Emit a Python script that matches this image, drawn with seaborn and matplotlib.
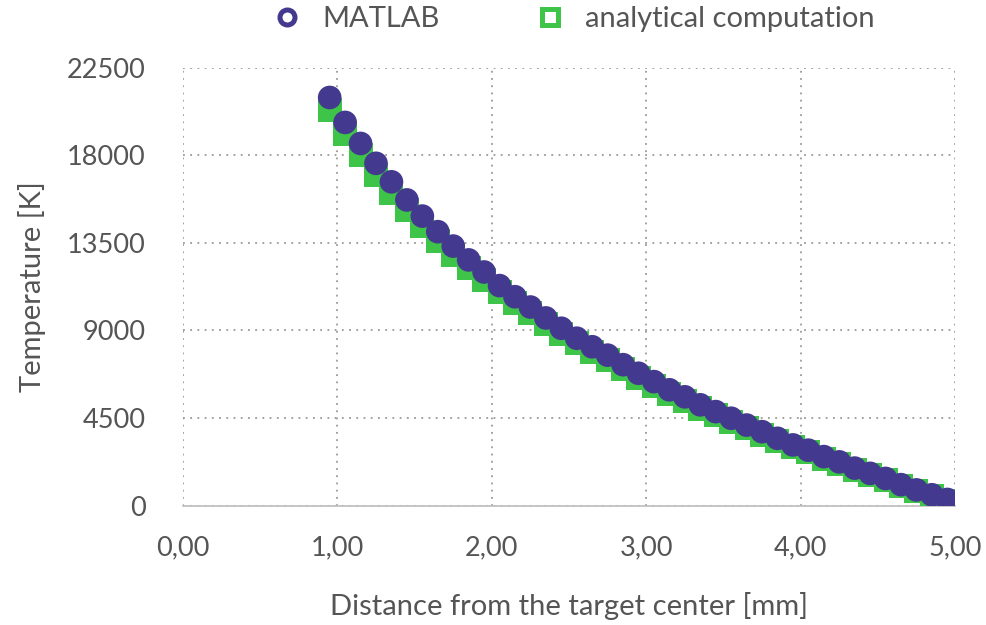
import matplotlib
matplotlib.use("Agg")
import matplotlib.pyplot as plt
from matplotlib.lines import Line2D
from matplotlib.ticker import FuncFormatter
import seaborn as sns
import pandas as pd

distance_mm = [0.95, 1.05, 1.15, 1.25, 1.35, 1.45, 1.55, 1.65, 1.75, 1.85,
               1.95, 2.05, 2.15, 2.25, 2.35, 2.45, 2.55, 2.65, 2.75, 2.85,
               2.95, 3.05, 3.15, 3.25, 3.35, 3.45, 3.55, 3.65, 3.75, 3.85,
               3.95, 4.05, 4.15, 4.25, 4.35, 4.45, 4.55, 4.65, 4.75, 4.85, 4.95]

matlab_K = [20960, 19680, 18600, 17580, 16630, 15700, 14870, 14070, 13330, 12620,
            12000, 11300, 10730, 10200, 9640, 9110, 8600, 8160, 7730, 7240,
            6800, 6370, 5950, 5590, 5180, 4830, 4490, 4140, 3800, 3460,
            3120, 2850, 2520, 2250, 1930, 1660, 1400, 1080, 810, 560, 320]

analytical_K = [20310, 19110, 17990, 16990, 16050, 15190, 14370, 13600, 12880, 12220,
                11600, 10970, 10430, 9900, 9350, 8820, 8330, 7900, 7470, 7000,
                6570, 6150, 5740, 5390, 4990, 4650, 4320, 3980, 3650, 3320,
                3000, 2740, 2420, 2160, 1850, 1590, 1340, 1030, 760, 510, 250]

y_ticks = [0, 4500, 9000, 13500, 18000, 22500]
x_ticks = [0, 1, 2, 3, 4, 5]

purple = "#433a8f"
green = "#3dc449"
text_col = "#555555"

sns.set_theme(style="white")
plt.rcParams['font.family'] = ['Lato', 'DejaVu Sans']

df_m = pd.DataFrame({"x": distance_mm, "y": matlab_K})
df_a = pd.DataFrame({"x": distance_mm, "y": analytical_K})

fig = plt.figure(figsize=(9.86, 6.25), dpi=100)
ax = fig.add_axes([0.1856, 0.1909, 0.9686 - 0.1856, 0.892 - 0.1909])

sns.scatterplot(data=df_a, x="x", y="y", ax=ax, marker="s", s=300, color=green,
                edgecolor="none", linewidth=0, zorder=3, legend=False)
sns.scatterplot(data=df_m, x="x", y="y", ax=ax, marker="o", s=290, color=purple,
                edgecolor="none", linewidth=0, zorder=4, legend=False)

ax.set_xlim(0, 5)
ax.set_ylim(0, 22500)
ax.set_xticks(x_ticks)
ax.set_yticks(y_ticks)
ax.xaxis.set_major_formatter(FuncFormatter(lambda v, p: f"{v:.2f}".replace('.', ',')))
ax.yaxis.set_major_formatter(FuncFormatter(lambda v, p: f"{int(v)}"))

ax.grid(True, which="major", axis="both", color="#9a9a9a", linestyle=(0, (1, 3)),
        linewidth=1.3)
for s in ["left", "right", "top"]:
    ax.spines[s].set_visible(False)
ax.spines["bottom"].set_color("#bdbdbd")
ax.spines["bottom"].set_linewidth(1.2)
ax.spines["bottom"].set_zorder(2)

ax.tick_params(axis="both", length=0, labelsize=19.5, labelcolor=text_col)
ax.tick_params(axis="x", pad=21)
ax.tick_params(axis="y", pad=27)

ax.set_xlabel("Distance from the target center [mm]", fontsize=21, color=text_col,
              labelpad=23)
ax.set_ylabel("Temperature [K]", fontsize=21, color=text_col, labelpad=15)

handles = [
    Line2D([], [], marker="o", linestyle="none", markersize=10.8,
           markerfacecolor="white", markeredgecolor=purple, markeredgewidth=3.6),
    Line2D([], [], marker="s", linestyle="none", markersize=11.3,
           markerfacecolor="white", markeredgecolor=green, markeredgewidth=3.6),
]
leg = fig.legend(handles, ["MATLAB", "analytical computation"], loc="center",
                 bbox_to_anchor=(0.582, 0.969), ncol=2, frameon=False,
                 fontsize=21, handlelength=1.0, handletextpad=0.7,
                 columnspacing=3.3, labelcolor=text_col)

fig.savefig("out.png", dpi=100)
